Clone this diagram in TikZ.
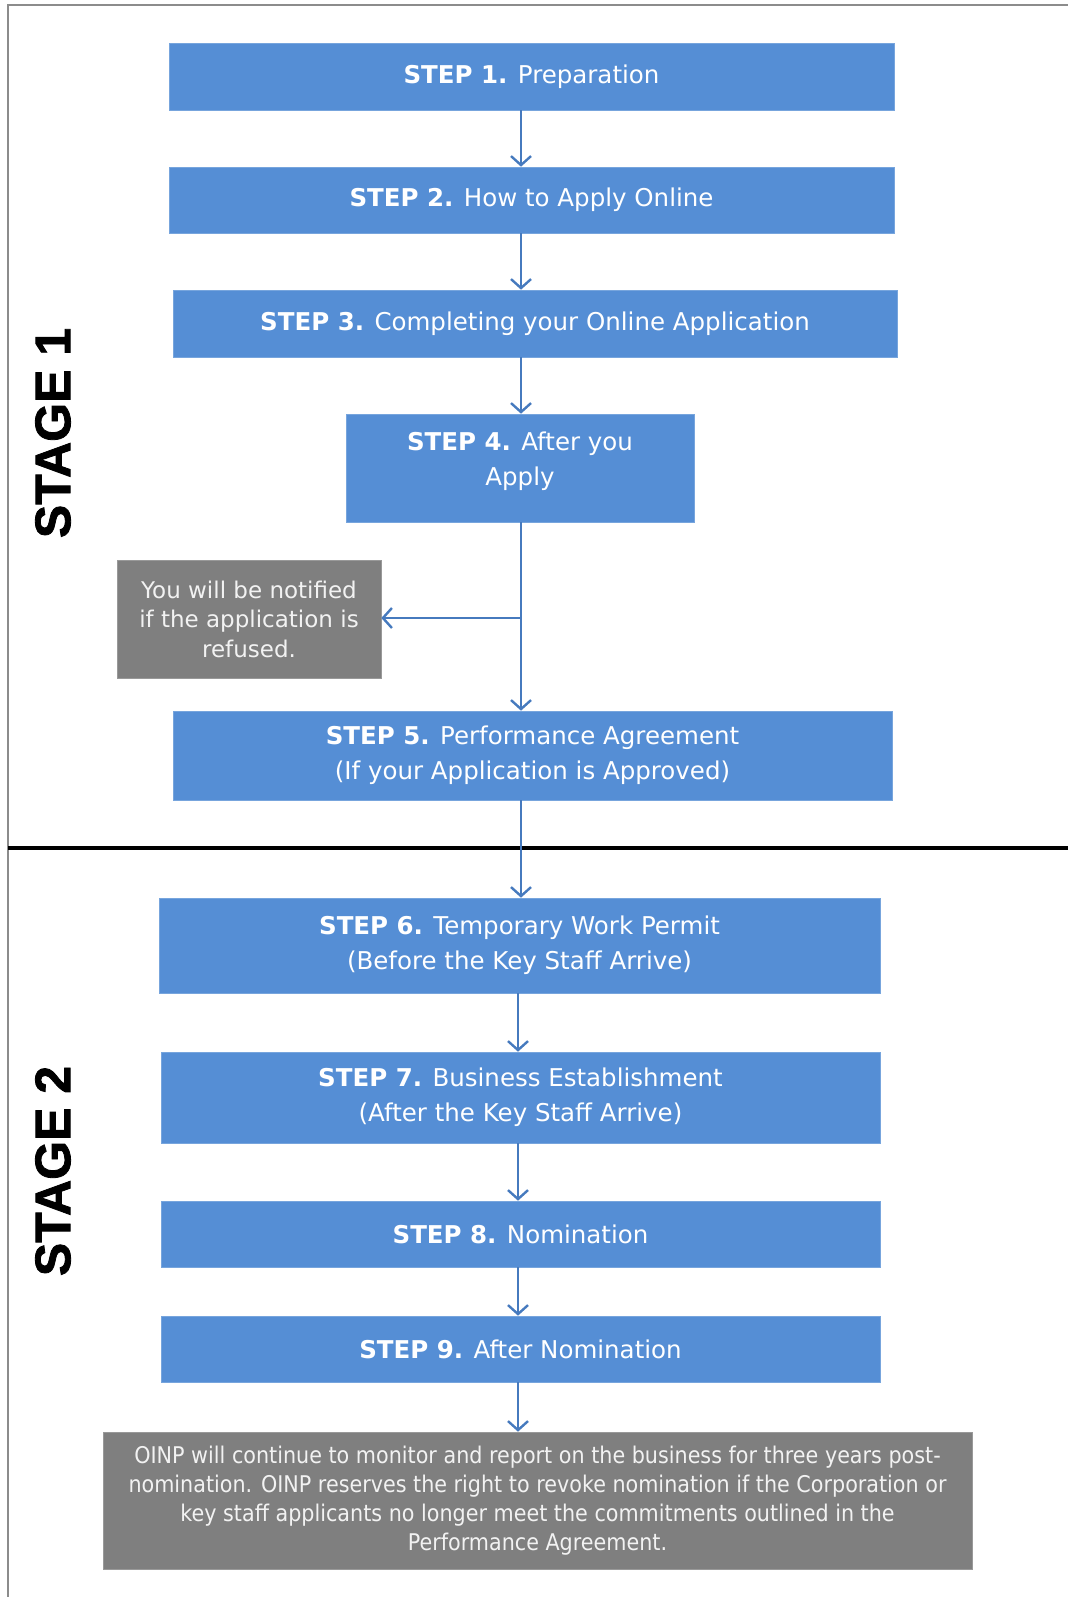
\documentclass[tikz,border=0pt]{standalone}
\usepackage{fontspec}
\setmainfont{DejaVu Sans}
\newfontfamily\stagefont{Liberation Sans Bold}[FakeBold=1.6]
\newfontfamily\narrowfont{DejaVu Sans}[FakeStretch=0.9]
\usetikzlibrary{arrows.meta}
\definecolor{boxblue}{RGB}{85,142,213}
\definecolor{arrowblue}{RGB}{70,122,190}
\definecolor{boxgray}{RGB}{127,127,127}
\definecolor{txtlight}{RGB}{242,242,242}
\definecolor{framegray}{RGB}{140,140,140}
\tikzset{
  stepfont/.style={text=white, align=center, font=\fontsize{24.5}{35}\selectfont},
  stepbox/.style={fill=boxblue, draw=boxblue!80!white, line width=0.6pt, inner sep=0pt, stepfont},
  graybox/.style={fill=boxgray, draw=boxgray!80!white, line width=0.6pt, text=txtlight, align=center, inner sep=0pt},
  flow/.style={draw=arrowblue, line width=2.4pt, -{Straight Barb[length=9pt,width=20pt,line width=2.4pt]}},
  stagelabel/.style={rotate=90, font=\stagefont\fontsize{50}{50}\selectfont, text=black, inner sep=0pt}
}
\begin{document}
\begin{tikzpicture}[x=1pt,y=-1pt]
\useasboundingbox (0,0) rectangle (1068,1597);
% frame
\draw[framegray, line width=2pt] (8,1597) -- (8,5) -- (1068,5);
\draw[black, line width=4.5pt] (8,848) -- (1068,848);
% stage labels
\node[stagelabel] (st1) at (53,433) {STAGE 1};
\node[stagelabel] (st2) at (53,1171) {STAGE 2};
% boxes
\node[stepbox, minimum width=725pt, minimum height=67pt] (s1) at (531.5,76.5) {\textbf{STEP 1.} Preparation};
\node[stepbox, minimum width=725pt, minimum height=66pt] (s2) at (531.5,200) {\textbf{STEP 2.} How to Apply Online};
\node[stepbox, minimum width=724pt, minimum height=67pt] (s3) at (535,323.5) {\textbf{STEP 3.} Completing your Online Application};
\node[stepbox, minimum width=348pt, minimum height=108pt,
      label={[stepfont, inner sep=0pt, yshift=7pt]center:\textbf{STEP 4.} After you\\Apply}] (s4) at (520,468) {};
\node[graybox, minimum width=264pt, minimum height=118pt, font=\fontsize{23}{29.5}\selectfont] (nt) at (249,619) {You will be notified\\if the application is\\refused.};
\node[stepbox, minimum width=719pt, minimum height=89pt] (s5) at (532.5,755.5) {\textbf{STEP 5.} Performance Agreement\\(If your Application is Approved)};
\node[stepbox, minimum width=721pt, minimum height=95pt] (s6) at (519.5,945.5) {\textbf{STEP 6.} Temporary Work Permit\\(Before the Key Staff Arrive)};
\node[stepbox, minimum width=719pt, minimum height=91pt] (s7) at (520.5,1097.5) {\textbf{STEP 7.} Business Establishment\\(After the Key Staff Arrive)};
\node[stepbox, minimum width=719pt, minimum height=66pt] (s8) at (520.5,1234) {\textbf{STEP 8.} Nomination};
\node[stepbox, minimum width=719pt, minimum height=66pt] (s9) at (520.5,1349) {\textbf{STEP 9.} After Nomination};
\node[graybox, minimum width=869pt, minimum height=137pt, font=\narrowfont\fontsize{23}{29.2}\selectfont] (fin) at (537.5,1500.5) {OINP will continue to monitor and report on the business for three years post-\\nomination. OINP reserves the right to revoke nomination if the Corporation or\\key staff applicants no longer meet the commitments outlined in the\\Performance Agreement.};
% helper coordinates for connector x-positions
\coordinate (ax1) at (521,0);
\coordinate (ax2) at (518,0);
\coordinate (br) at (521,618);
% connectors
\draw[flow] (s1.south -| ax1) -- (s2.north -| ax1);
\draw[flow] (s2.south -| ax1) -- (s3.north -| ax1);
\draw[flow] (s3.south -| ax1) -- (s4.north -| ax1);
\draw[flow] (s4.south -| ax1) -- (s5.north -| ax1);
\draw[flow] (br) -- (nt.east |- br);
\draw[flow] (s5.south -| ax1) -- (s6.north -| ax1);
\draw[flow] (s6.south -| ax2) -- (s7.north -| ax2);
\draw[flow] (s7.south -| ax2) -- (s8.north -| ax2);
\draw[flow] (s8.south -| ax2) -- (s9.north -| ax2);
\draw[flow] (s9.south -| ax2) -- (fin.north -| ax2);
\end{tikzpicture}
\end{document}
